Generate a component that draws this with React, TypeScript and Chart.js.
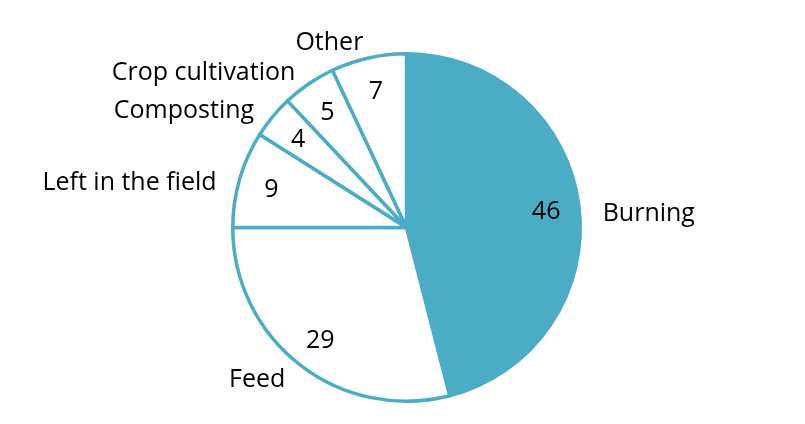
import React, { useEffect, useRef } from "react";
import Chart from "chart.js/auto";

const categories = ["Burning", "Feed", "Left in the field", "Composting", "Crop cultivation", "Other"];
const shares = [46, 29, 9, 4, 5, 7];
const sliceFills = ["#4BACC6", "#FFFFFF", "#FFFFFF", "#FFFFFF", "#FFFFFF", "#FFFFFF"];

const FONT = "25px 'Open Sans', sans-serif";

// draws the value inside each slice and the category name outside it
const sliceLabels = {
  id: "sliceLabels",
  afterDatasetsDraw(chart: Chart) {
    const ctx = chart.ctx;
    const meta = chart.getDatasetMeta(0);
    ctx.save();
    ctx.font = FONT;
    ctx.fillStyle = "#000000";
    meta.data.forEach((el: any, i: number) => {
      const { x, y, startAngle, endAngle, outerRadius } = el.getProps(
        ["x", "y", "startAngle", "endAngle", "outerRadius"],
        true
      );
      const mid = (startAngle + endAngle) / 2;
      const c = Math.cos(mid);
      const s = Math.sin(mid);

      // value
      const vr = outerRadius * 0.81;
      ctx.textAlign = "center";
      ctx.textBaseline = "middle";
      ctx.fillText(String(shares[i]), x + c * vr, y + s * vr + 2);

      // category
      const px = x + c * (outerRadius + 24);
      const py = y + s * (outerRadius + 16) + 12 * (1 - Math.abs(s));
      ctx.textAlign = c < 0 ? "right" : "left";
      ctx.textBaseline = "middle";
      ctx.fillText(categories[i], px, py);
    });
    ctx.restore();
  },
};

const App = () => {
  const chartRef = useRef<HTMLCanvasElement | null>(null);

  useEffect(() => {
    if (!chartRef.current) return;
    const ctx = chartRef.current.getContext("2d");
    if (!ctx) return;

    const chart = new Chart(ctx, {
      type: "pie",
      data: {
        labels: categories,
        datasets: [
          {
            data: shares,
            backgroundColor: sliceFills,
            borderColor: "#4BACC6",
            borderWidth: 3.5,
            borderJoinStyle: "miter",
          },
        ],
      },
      options: {
        responsive: false,
        animation: false,
        layout: {
          padding: { top: 52, bottom: 21, left: 231, right: 223 },
        },
        plugins: {
          legend: { display: false },
          tooltip: { enabled: false },
        },
      },
      plugins: [sliceLabels],
    });

    return () => {
      chart.destroy();
    };
  }, []);

  return (
    <div style={{ position: "fixed", left: 0, top: 0, width: 805, height: 424, background: "#fff" }}>
      <canvas ref={chartRef} width={805} height={424} />
    </div>
  );
};

export default App;
